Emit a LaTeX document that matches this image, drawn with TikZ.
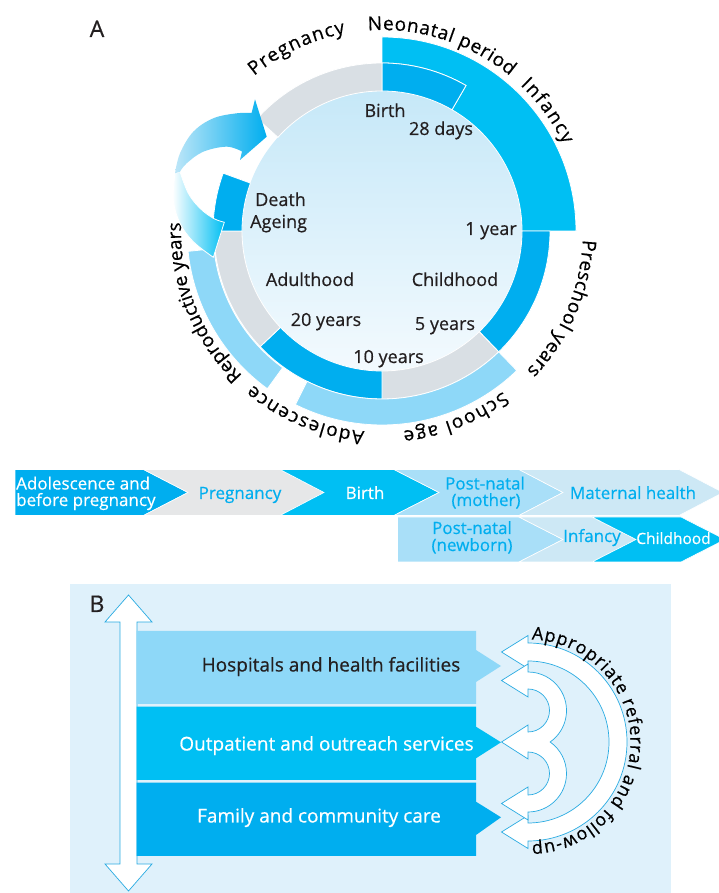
\documentclass[tikz,border=0pt]{standalone}
\usepackage{fontspec}
\setmainfont{Open Sans}[FakeBold=0.5]
\usetikzlibrary{decorations.text}
\definecolor{txt}{HTML}{231F20}
\definecolor{dblue}{HTML}{00AEEF}
\definecolor{cyanb}{HTML}{00BFF3}
\definecolor{grayr}{HTML}{D9DFE4}
\definecolor{lblue}{HTML}{8ED8F8}
\definecolor{diskT}{HTML}{C6E8F8}
\definecolor{diskB}{HTML}{F3FAFE}
\definecolor{chgray}{HTML}{E6E7E8}
\definecolor{chlb}{HTML}{A9DFF8}
\definecolor{chpale}{HTML}{CDE8F5}
\definecolor{panel}{HTML}{DFF1FB}
\definecolor{outl}{HTML}{29ABE2}
\definecolor{upL}{HTML}{BDE6F8}
\tikzset{
  seg/.style={draw=white, line width=0.8pt},
  lab/.style={inner sep=0pt, anchor=base, text=txt, font=\fontsize{18}{21}\selectfont},
  chevlab/.style={inner sep=0pt, anchor=base, font=\fontsize{17}{20}\selectfont},
  blab/.style={inner sep=0pt, anchor=base, font=\fontsize{19}{22}\selectfont},
  chevbox/.style={draw=white, line width=0.6pt},
  refarrow/.style={fill=white, draw=outl, line width=0.7pt},
  panellab/.style={inner sep=0pt, anchor=base, text=txt, font=\fontsize{23}{27}\selectfont},
}
\newcommand{\curvefont}{\fontsize{19}{22}\selectfont}
\newcommand{\reffont}{\fontsize{18}{21}\selectfont}
\newcommand{\annseg}[5]{%
  \fill[#1, seg] (#2:#5) arc[start angle=#2, end angle=#3, radius=#5] -- (#3:#4) arc[start angle=#3, end angle=#2, radius=#4] -- cycle;}
\newcommand{\curvelab}[4]{%
  \path[decorate, decoration={text along path, text={|\curvefont|#1}, text align={fit to path}}] (#2:#4) arc[start angle=#2, end angle=#3, radius=#4];}
\begin{document}
\begin{tikzpicture}[x=1pt,y=1pt]
\useasboundingbox (0,0) rectangle (719,893);
\clip (0,0) rectangle (719,893);

% ---------------- Part A ----------------
\node[panellab] (labA) at (97,856) {A};

\begin{scope}[shift={(382,662)}]
  \shade[top color=diskT, bottom color=diskB] (0,0) circle[radius=140];
  % cyan block (neonatal period / infancy)
  \fill[cyanb, seg] (90:194) arc[start angle=90, end angle=0, radius=194] -- (0:140) arc[start angle=0, end angle=60, radius=140] -- (60:168) arc[start angle=60, end angle=90, radius=168] -- cycle;
  \annseg{dblue}{90}{60}{140}{168}
  \annseg{dblue}{0}{-46}{140}{168}
  \annseg{grayr}{-46}{-90}{140}{168}
  \annseg{dblue}{-90}{-136.5}{140}{168}
  \annseg{grayr}{-136.5}{-180}{140}{168}
  \annseg{dblue}{180}{160}{140}{169}
  \annseg{grayr}{138}{90}{140}{168}
  \annseg{lblue}{-46}{-116.5}{168}{194}
  \annseg{lblue}{186}{234}{169}{195}
  % curved labels
  \begin{scope}[color=txt]
  \curvelab{Pregnancy}{129.5}{100.5}{201}
  \curvelab{Neonatal period}{94}{50.5}{201}
  \curvelab{Infancy}{46.5}{25.5}{201}
  \curvelab{Preschool years}{-2.5}{-44}{201}
  \curvelab{School age}{-53}{-84}{201}
  \curvelab{Adolescence}{265}{230}{201}
  \curvelab{Reproductive years}{226}{178}{201}
  \end{scope}
\end{scope}

% loop arrow (death -> pregnancy)
\shade[left color=white, right color=cyanb, draw=white, line width=0.8pt]
  plot[smooth, tension=0.6] coordinates {(175,719.7) (173.3,693) (180,669.7) (193.3,651.3) (213.3,635.7)}
  -- plot[smooth, tension=0.6] coordinates {(224.3,670.7) (213.3,674.7) (200,684.7) (188.3,699.7) (180,721.3)} -- cycle;
\shade[left color=upL, right color=dblue]
  plot[smooth, tension=0.6] coordinates {(175,719.7) (180,739.7) (193.3,761.3) (213.3,774.7) (236.7,779.7) (251.6,780)}
  -- (255,793.7) -- (266.7,756.3) -- (240,733)
  -- plot[smooth, tension=0.6] coordinates {(242,741.5) (226.7,746.3) (203.3,741.3) (186.7,729.7) (180,721.3)} -- cycle;

% inner texts
\node[lab] (birth) at (385,776) {Birth};
\node[lab] (d28) at (441,758) {28 days};
\node[lab, anchor=base west] (death) at (255,687) {Death};
\node[lab, anchor=base west] (ageing) at (250,665) {Ageing};
\node[lab] (y1) at (491,658) {1 year};
\node[lab] (child) at (455,607) {Childhood};
\node[lab] (adult) at (310,607) {Adulthood};
\node[lab] (y5) at (445,563) {5 years};
\node[lab] (y20) at (326,567) {20 years};
\node[lab] (y10) at (388.5,530) {10 years};

% ---------------- chevrons ----------------
\fill[dblue, chevbox] (15,423.5) -- (143.5,423.5) -- (188,400.5) -- (143.5,377.5) -- (15,377.5) -- cycle;
\fill[chgray, chevbox] (143.5,423.5) -- (280,423.5) -- (324,400.5) -- (280,377.5) -- (143.5,377.5) -- (188,400.5) -- cycle;
\fill[cyanb, chevbox] (280,423.5) -- (394,423.5) -- (439,400.5) -- (394,377.5) -- (280,377.5) -- (324,400.5) -- cycle;
\fill[chlb, chevbox] (394,423.5) -- (519,423.5) -- (563,400.5) -- (519,377.5) -- (394,377.5) -- (439,400.5) -- cycle;
\fill[chpale, chevbox] (519,423.5) -- (679,423.5) -- (723,400.5) -- (679,377.5) -- (519,377.5) -- (563,400.5) -- cycle;
\fill[chlb, chevbox] (397.5,376) -- (519,376) -- (563,353.5) -- (519,331) -- (397.5,331) -- cycle;
\fill[chpale, chevbox] (519,376) -- (592,376) -- (636,353.5) -- (592,331) -- (519,331) -- (563,353.5) -- cycle;
\fill[cyanb, chevbox] (592,376) -- (681,376) -- (725,353.5) -- (681,331) -- (592,331) -- (636,353.5) -- cycle;

\node[chevlab, anchor=base west, text=white] (ad1) at (16,403.5) {Adolescence and};
\node[chevlab, anchor=base west, text=white] (ad2) at (16,387) {before pregnancy};
\node[chevlab, text=dblue] (cpreg) at (240,394) {Pregnancy};
\node[chevlab, text=white] (cbirth) at (365,394) {Birth};
\node[chevlab, text=dblue] (pm1) at (485,403.5) {Post-natal};
\node[chevlab, text=dblue] (pm2) at (486,387) {(mother)};
\node[chevlab, text=dblue] (mh) at (633,394) {Maternal health};
\node[chevlab, text=dblue] (pn1) at (472,359) {Post-natal};
\node[chevlab, text=dblue] (pn2) at (472,342) {(newborn)};
\node[chevlab, text=dblue] (cinf) at (592,351) {Infancy};
\node[chevlab, text=white, font=\fontsize{15.5}{18}\selectfont] (cchild) at (673.5,349) {Childhood};

% ---------------- Part B ----------------
\fill[panel] (70,0) rectangle (671,309);
\node[panellab] (labB) at (97,281) {B};

\draw[refarrow] (120,29) -- (120,271) -- (105,271) -- (128.5,298) -- (152,271) -- (137,271) -- (137,29) -- (152,29) -- (128.5,2) -- (105,29) -- cycle;

\fill[lblue] (136.7,262) -- (476,262) -- (476,243) -- (501,227) -- (476,211) -- (476,189) -- (136.7,189) -- cycle;
\fill[cyanb] (136.7,186.3) -- (476,186.3) -- (476,166.3) -- (501,150.7) -- (476,134.7) -- (476,113) -- (136.7,113) -- cycle;
\fill[dblue] (136.7,110.3) -- (476,110.3) -- (476,91.3) -- (501,75.7) -- (476,58) -- (476,37) -- (136.7,37) -- cycle;

\node[blab, text=txt] (hosp) at (331,221.5) {Hospitals and health facilities};
\node[blab, text=white] (outp) at (326.5,142.5) {Outpatient and outreach services};
\node[blab, text=white] (fam) at (319,70.5) {Family and community care};

% referral arrows
\draw[refarrow] (528,250) -- (528,257.5) -- (501.5,241) -- (528,224.5) -- (528,232)
  arc[start angle=90, end angle=-90, radius=81] -- (528,77.5) -- (501.5,61) -- (528,44.5) -- (528,52)
  arc[start angle=-90, end angle=90, radius=99] -- cycle;
\draw[refarrow] (528,221) -- (528,229) -- (501.5,212.5) -- (528,196) -- (528,204)
  arc[start angle=90, end angle=-90, radius=21.5] -- (528,168) -- (501.5,151) -- (528,134) -- (528,141)
  arc[start angle=90, end angle=-90, radius=21.5] -- (528,106) -- (501.5,89.5) -- (528,73) -- (528,81)
  arc[start angle=-90, end angle=54.9, radius=38.5] arc[start angle=-54.9, end angle=90, radius=38.5] -- cycle;

\begin{scope}[shift={(528,151)}, color=txt]
  \path[decorate, decoration={text along path, text={|\reffont|Appropriate referral and follow-up}, text align={fit to path}}] (88:102.5) arc[start angle=88, end angle=-88, radius=102.5];
\end{scope}
\end{tikzpicture}
\end{document}
